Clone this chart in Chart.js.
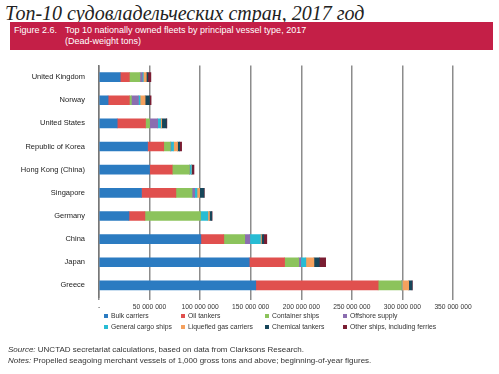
<!DOCTYPE html>
<html lang="en">
  <head>
    <meta charset="UTF-8" />
    <title>Top 10 nationally owned fleets</title>
    <script src="https://cdn.jsdelivr.net/npm/chart.js"></script>
    <style>
      * { margin: 0; padding: 0; box-sizing: border-box; }
      body { width: 499px; height: 374px; background: #fff; position: relative; overflow: hidden;
        font-family: "Liberation Sans", Arial, sans-serif; color: #222; }
      .title { position: absolute; left: 5px; top: 1px; font-family: "Liberation Serif", "Times New Roman", serif;
        font-style: italic; font-size: 20px; line-height: 24px; color: #222; white-space: nowrap; }
      .banner { position: absolute; left: 10px; top: 22px; width: 483px; height: 28px; background: #c41f47;
        color: #fff; font-size: 9px; line-height: 11px; }
      .banner .fig { position: absolute; left: 4px; top: 3px; }
      .banner .txt { position: absolute; left: 55px; top: 3px; }
      #wrap { position: absolute; left: 0; top: 55px; width: 499px; height: 257px; }
      .legend { position: absolute; font-size: 6.8px; line-height: 10px; white-space: nowrap; color: #333; }
      .legend i { position: absolute; left: -7px; top: 3px; width: 4px; height: 4px; }
      .src { position: absolute; left: 8px; font-size: 8px; color: #333; white-space: nowrap; }
    </style>
  </head>
  <body>
    <div class="title">Топ-10 судовладельческих стран, 2017 год</div>
    <div class="banner">
      <div class="fig">Figure 2.6.</div>
      <div class="txt">Top 10 nationally owned fleets by principal vessel type, 2017<br />(Dead-weight tons)</div>
    </div>
    <div id="wrap"><canvas id="fleetChart"></canvas></div>
    <div id="legend"></div>
    <div class="src" style="top: 345px"><i>Source:</i> UNCTAD secretariat calculations, based on data from Clarksons Research.</div>
    <div class="src" style="top: 356px"><i>Notes:</i> Propelled seagoing merchant vessels of 1,000 gross tons and above; beginning-of-year figures.</div>

    <script>
      const countries = ["United Kingdom", "Norway", "United States", "Republic of Korea", "Hong Kong (China)",
        "Singapore", "Germany", "China", "Japan", "Greece"];

      // million dwt
      const bulk      = [21, 9, 18, 48, 50, 42, 29.6, 100.7, 148.5, 155];
      const oil       = [9, 21, 28, 16, 22.4, 34, 15.8, 22.7, 35, 121];
      const container = [10.5, 2, 4, 6.6, 17, 16, 55, 20.7, 14, 23];
      const offshore  = [2.3, 7, 8, 0.5, 0.3, 2.6, 0, 5, 2, 0.3];
      const genCargo  = [1, 1.6, 3, 2.6, 1.6, 2.3, 7.2, 10.5, 5, 0.3];
      const lng       = [3, 5, 1, 4, 0.3, 2.6, 1.6, 1, 8, 6.6];
      const chemical  = [1.5, 4.3, 4.6, 2, 0.3, 4.3, 2.3, 2.3, 5.3, 3.3];
      const other     = [3, 1.6, 0.5, 2, 2, 0.3, 0.3, 3, 6.3, 0.3];

      const series = [
        ["Bulk carriers", bulk, "#2b7bc1"],
        ["Oil tankers", oil, "#e0504e"],
        ["Container ships", container, "#8cc35c"],
        ["Offshore supply", offshore, "#8b6db0"],
        ["General cargo ships", genCargo, "#27bcd4"],
        ["Liquefied gas carriers", lng, "#f5a15e"],
        ["Chemical tankers", chemical, "#17465a"],
        ["Other ships, including ferries", other, "#7a1d32"],
      ];

      // legend: two rows, four columns
      const colX = [111, 188, 272, 350];
      const rowY = [311, 322];
      let html = "";
      series.forEach((s, i) => {
        html += `<div class="legend" style="left:${colX[i % 4]}px;top:${rowY[Math.floor(i / 4)]}px"><i style="background:${s[2]}"></i>${s[0]}</div>`;
      });
      document.getElementById("legend").innerHTML = html;

      const fontFam = "'Liberation Sans', Arial, sans-serif";

      new Chart(document.getElementById("fleetChart"), {
        type: "bar",
        data: {
          labels: countries,
          datasets: series.map(([label, vals, color]) => ({
            label,
            data: vals.map((v) => v * 1e6),
            backgroundColor: color,
            borderWidth: 0,
            barThickness: 9,
          })),
        },
        options: {
          indexAxis: "y",
          responsive: true,
          maintainAspectRatio: false,
          animation: false,
          layout: { padding: { top: 7, right: 46, left: 0, bottom: 0 } },
          plugins: { legend: { display: false }, tooltip: { enabled: false } },
          scales: {
            x: {
              stacked: true,
              min: 0,
              max: 350e6,
              afterFit: (s) => { s.height = 15; },
              ticks: {
                stepSize: 50e6,
                padding: 3,
                color: "#333",
                font: { family: fontFam, size: 6.7 },
                callback: (v) => (v === 0 ? "-" : String(v).replace(/\B(?=(\d{3})+(?!\d))/g, " ")),
              },
              grid: { color: "#8c8c8c", lineWidth: 1.5, tickLength: 3 },
              border: { display: false },
            },
            y: {
              stacked: true,
              afterFit: (s) => { s.width = 99; },
              ticks: { color: "#222", padding: 6, font: { family: fontFam, size: 7.5 } },
              grid: { display: false },
              border: { display: true, color: "#777", width: 1.5 },
            },
          },
        },
      });
    </script>
  </body>
</html>
